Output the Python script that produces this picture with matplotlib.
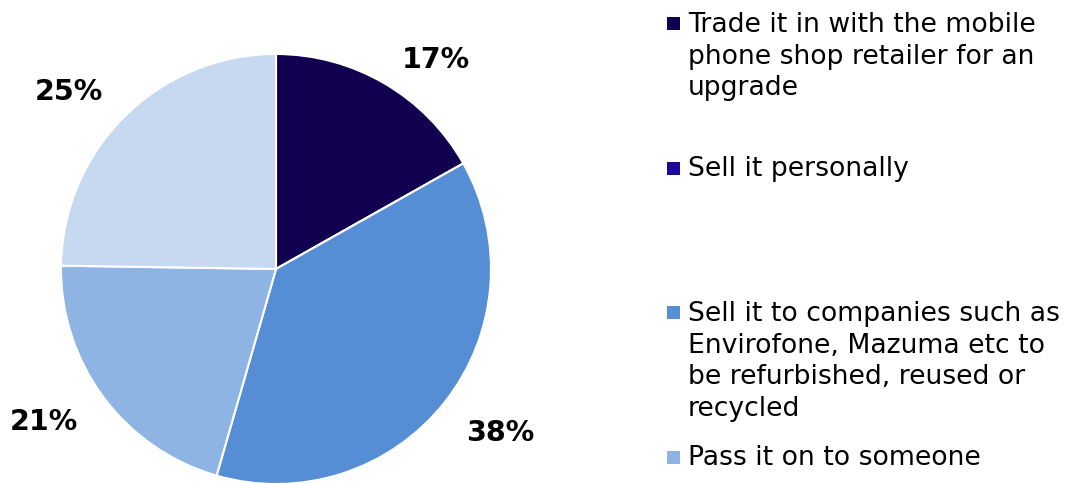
import numpy as np
import matplotlib.pyplot as plt
from matplotlib.patches import Rectangle

# survey answers: what people do with an old phone
answers = [
    "Trade it in with the mobile\nphone shop retailer for an\nupgrade",
    "Sell it personally",
    "Sell it to companies such as\nEnvirofone, Mazuma etc to\nbe refurbished, reused or\nrecycled",
    "Pass it on to someone",
    "Keep it",
]
shares = [17, 0, 38, 21, 25]
colours = ["#11004f", "#1a0a9c", "#558ed5", "#8eb4e3", "#c6d9f1"]

# best-fit style label placement: (radial distance, angle nudge in degrees)
label_dist = [1.23, 1.0, 1.29, 1.29, 1.27]
label_nudge = [-7.0, 0.0, 2.4, -3.2, 4.8]

W, H = 1070, 485
fig = plt.figure(figsize=(W / 100, H / 100), dpi=100)
fig.patch.set_facecolor("white")

ax = fig.add_axes([61 / W, 0.0, 430 / W, 430 / H])
wedges, _ = ax.pie(shares, colors=colours, startangle=90, counterclock=False,
                   radius=1.0, wedgeprops=dict(edgecolor="white", linewidth=1.5))
ax.set_xlim(-1, 1)
ax.set_ylim(-1, 1)
ax.set_aspect("equal")
ax.axis("off")

# percentage labels just outside each slice
total = float(sum(shares))
start = 90.0
for val, d, nudge in zip(shares, label_dist, label_nudge):
    span = 360.0 * val / total
    if val > 0:
        mid = np.deg2rad(start - span / 2 + nudge)
        ax.text(d * np.cos(mid), d * np.sin(mid), f"{val}%", ha="center", va="center",
                fontsize=20.5, fontweight="bold", color="black", clip_on=False)
    start -= span

# legend, entries spread evenly down the right side
fs = 19.2
slot = 144.5
for i, (lab, col) in enumerate(zip(answers, colours)):
    y_top = 12 + i * slot
    if y_top > H:
        continue
    fig.patches.append(Rectangle((667 / W, 1 - (y_top + 19) / H), 13 / W, 13 / H,
                                 transform=fig.transFigure, facecolor=col,
                                 edgecolor="none"))
    fig.text(688 / W, 1 - y_top / H, lab, ha="left", va="top", fontsize=fs,
             color="black", linespacing=1.28)

fig.savefig("out.png", dpi=100, facecolor="white")
